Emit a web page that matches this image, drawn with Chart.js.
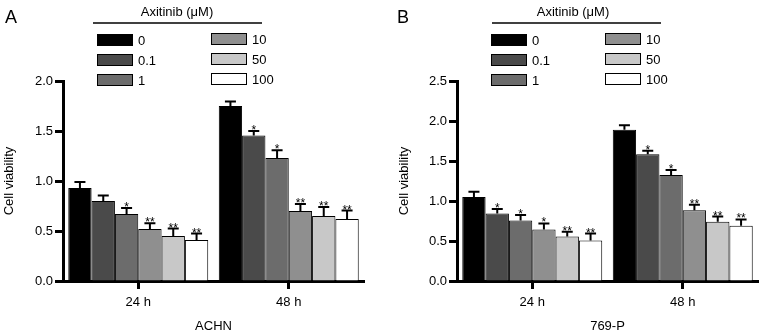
<!DOCTYPE html>
<html>
<head>
<meta charset="utf-8">
<script src="https://cdn.jsdelivr.net/npm/chart.js@4.4.1/dist/chart.umd.min.js"></script>
<style>
    body { margin: 0; background: #fff; }
    #wrap { position: relative; width: 765px; height: 334px; }
    .panel { position: absolute; top: 0; height: 334px; }
</style>
</head>
<body>
<div id="wrap">
    <div class="panel" style="left:0;width:382px"><canvas id="chartA"></canvas></div>
    <div class="panel" style="left:385px;width:380px"><canvas id="chartB"></canvas></div>
</div>
<script>
const groups = ['24 h', '48 h'];
const doses = ['0', '0.1', '1', '10', '50', '100'];
const doseColors = ['#000000', '#4a4a4a', '#6c6c6c', '#8f8f8f', '#c8c8c8', '#ffffff'];

// ACHN
const achnMean24 = [0.93, 0.80, 0.67, 0.52, 0.45, 0.41];
const achnErr24 = [0.06, 0.055, 0.06, 0.057, 0.075, 0.065];
const achnMean48 = [1.75, 1.455, 1.23, 0.70, 0.65, 0.62];
const achnErr48 = [0.045, 0.045, 0.077, 0.07, 0.09, 0.085];
const achnStars24 = ['', '', '*', '**', '**', '**'];
const achnStars48 = ['', '*', '*', '**', '**', '**'];

// 769-P
const p769Mean24 = [1.05, 0.845, 0.755, 0.645, 0.555, 0.505];
const p769Err24 = [0.067, 0.054, 0.07, 0.075, 0.06, 0.088];
const p769Mean48 = [1.89, 1.585, 1.325, 0.885, 0.74, 0.69];
const p769Err48 = [0.058, 0.042, 0.063, 0.067, 0.066, 0.08];
const p769Stars24 = ['', '*', '*', '*', '**', '**'];
const p769Stars48 = ['', '*', '*', '**', '**', '**'];

const FONT = "'Liberation Sans', Arial, Helvetica, sans-serif";
Chart.defaults.font.family = FONT;
Chart.defaults.color = '#000';

// error bars, asterisks, the two-column legend and the panel letter
const extrasPlugin = {
    id: 'extras',
    afterDatasetsDraw(chart, args, opts) {
        const ctx = chart.ctx;
        const yScale = chart.scales.y;
        ctx.save();
        ctx.strokeStyle = '#000';
        ctx.fillStyle = '#000';
        ctx.lineWidth = 2;
        chart.data.datasets.forEach((ds, i) => {
            const meta = chart.getDatasetMeta(i);
            meta.data.forEach((bar, j) => {
                const top = yScale.getPixelForValue(ds.data[j] + ds.errors[j]);
                ctx.beginPath();
                ctx.moveTo(bar.x, bar.y);
                ctx.lineTo(bar.x, top);
                ctx.moveTo(bar.x - 5.5, top);
                ctx.lineTo(bar.x + 5.5, top);
                ctx.stroke();
                if (ds.stars[j]) {
                    ctx.font = '12px ' + FONT;
                    ctx.textAlign = 'center';
                    ctx.textBaseline = 'alphabetic';
                    ctx.fillText(ds.stars[j], bar.x, top + 3);
                }
            });
        });
        ctx.restore();
    },
    afterDraw(chart, args, opts) {
        const ctx = chart.ctx;
        const left = chart.chartArea.left;
        ctx.save();
        ctx.fillStyle = '#000';
        ctx.font = '18px ' + FONT;
        ctx.textAlign = 'left';
        ctx.textBaseline = 'middle';
        ctx.fillText(opts.letter, opts.letterX, 18);

        ctx.font = '13px ' + FONT;
        ctx.textAlign = 'center';
        ctx.fillText(opts.title, left + opts.titleDx, 12);
        ctx.strokeStyle = '#000';
        ctx.lineWidth = 1.3;
        ctx.beginPath();
        ctx.moveTo(left + opts.lineDx[0], 23);
        ctx.lineTo(left + opts.lineDx[1], 23);
        ctx.stroke();

        const rows = [40, 60, 80];
        ctx.textAlign = 'left';
        ctx.lineWidth = 1;
        chart.data.datasets.forEach((ds, i) => {
            const col = i < 3 ? 0 : 1;
            const bx = left + opts.colDx[col];
            const cy = rows[i % 3] - col;
            ctx.fillStyle = ds.backgroundColor;
            ctx.fillRect(bx, cy - 6, 36, 12);
            ctx.strokeRect(bx + 0.5, cy - 5.5, 35, 11);
            ctx.fillStyle = '#000';
            ctx.fillText(ds.label, bx + 41, cy + 1);
        });
        ctx.restore();
    }
};

function makeChart(id, opts) {
    const datasets = doses.map((d, i) => ({
        label: d,
        data: [opts.mean24[i], opts.mean48[i]],
        errors: [opts.err24[i], opts.err48[i]],
        stars: [opts.stars24[i], opts.stars48[i]],
        backgroundColor: doseColors[i],
        borderColor: '#000',
        borderWidth: 1,
        categoryPercentage: 0.93,
        barPercentage: 1.0
    }));

    return new Chart(document.getElementById(id), {
        type: 'bar',
        data: { labels: groups, datasets: datasets },
        plugins: [extrasPlugin],
        options: {
            responsive: true,
            maintainAspectRatio: false,
            animation: false,
            layout: { padding: { left: 0, right: opts.padRight, top: 81, bottom: 0 } },
            plugins: {
                legend: { display: false },
                tooltip: { enabled: false },
                extras: {
                    letter: opts.letter,
                    letterX: opts.letterX,
                    title: 'Axitinib (μM)',
                    titleDx: opts.titleDx,
                    lineDx: opts.lineDx,
                    colDx: [34, 148]
                }
            },
            scales: {
                x: {
                    afterFit: (scale) => { scale.height = 53; },
                    grid: {
                        display: true,
                        offset: false,
                        drawOnChartArea: false,
                        drawTicks: true,
                        tickLength: 8,
                        tickWidth: 3,
                        tickColor: '#000'
                    },
                    border: { display: true, color: '#000', width: 3 },
                    ticks: { font: { size: 13 }, padding: 6, color: '#000' },
                    title: {
                        display: true,
                        text: opts.cell,
                        font: { size: 13 },
                        color: '#000',
                        padding: { top: 4, bottom: 0 }
                    }
                },
                y: {
                    min: 0,
                    max: opts.yMax,
                    afterFit: (scale) => { scale.width = opts.axisLeft; },
                    grid: {
                        display: true,
                        drawOnChartArea: false,
                        drawTicks: true,
                        tickLength: 8,
                        tickWidth: 3,
                        tickColor: '#000'
                    },
                    border: { display: true, color: '#000', width: 3 },
                    ticks: {
                        stepSize: 0.5,
                        font: { size: 13 },
                        padding: 2,
                        color: '#000',
                        callback: (v) => Number(v).toFixed(1)
                    },
                    title: {
                        display: true,
                        text: 'Cell viability',
                        font: { size: 13 },
                        color: '#000',
                        padding: { top: opts.yTitlePad, bottom: 0 }
                    }
                }
            }
        }
    });
}

makeChart('chartA', {
    letter: 'A', letterX: 5, cell: 'ACHN', yMax: 2.0,
    axisLeft: 63, padRight: 18, yTitlePad: 2,
    titleDx: 114, lineDx: [30, 199],
    mean24: achnMean24, mean48: achnMean48,
    err24: achnErr24, err48: achnErr48,
    stars24: achnStars24, stars48: achnStars48
});

makeChart('chartB', {
    letter: 'B', letterX: 12, cell: '769-P', yMax: 2.5,
    axisLeft: 72, padRight: 7, yTitlePad: 12,
    titleDx: 116, lineDx: [35, 204],
    mean24: p769Mean24, mean48: p769Mean48,
    err24: p769Err24, err48: p769Err48,
    stars24: p769Stars24, stars48: p769Stars48
});
</script>
</body>
</html>
